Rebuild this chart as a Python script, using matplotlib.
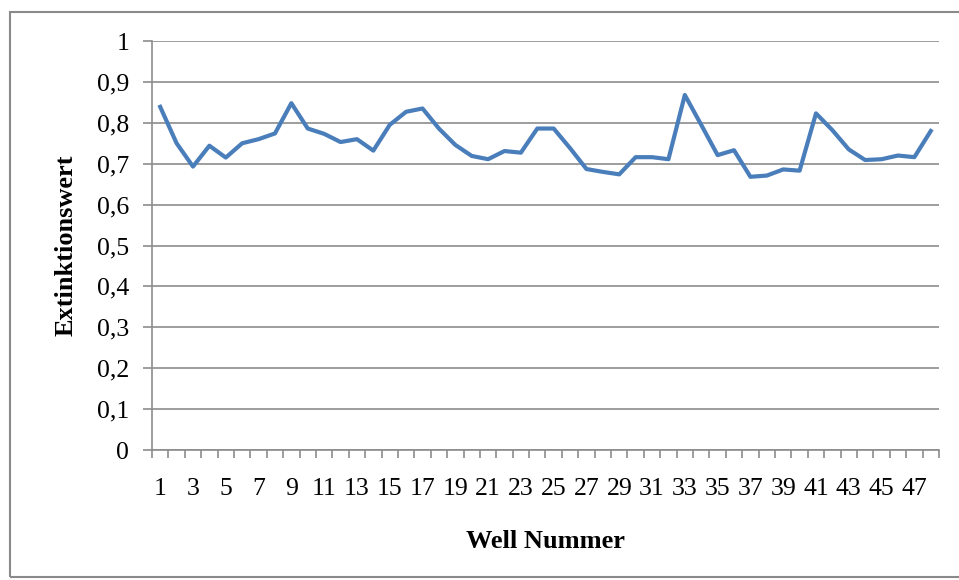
import matplotlib.pyplot as plt
from matplotlib.patches import Rectangle
from matplotlib.ticker import FuncFormatter
import numpy as np

# Extinktionswerte pro Well
wells = list(range(1, 49))
extinktion = [0.839, 0.750, 0.693, 0.744, 0.715, 0.750, 0.760, 0.774, 0.848, 0.786,
              0.773, 0.753, 0.760, 0.732, 0.795, 0.827, 0.835, 0.786, 0.746, 0.719,
              0.711, 0.731, 0.727, 0.786, 0.786, 0.738, 0.687, 0.680, 0.674, 0.716,
              0.716, 0.711, 0.868, 0.795, 0.721, 0.733, 0.668, 0.671, 0.686, 0.683,
              0.823, 0.782, 0.735, 0.709, 0.711, 0.720, 0.716, 0.780]
y_ticks = [0, 0.1, 0.2, 0.3, 0.4, 0.5, 0.6, 0.7, 0.8, 0.9, 1]

plt.rcParams['font.family'] = ['Liberation Serif', 'DejaVu Serif']

fig = plt.figure(figsize=(9.59, 5.8), dpi=100)
ax = fig.add_axes([0.1585, 0.2241, 0.8206, 0.7052])

# Rahmen um das ganze Diagramm
fig.patches.append(Rectangle((0.0105, 0.005), 1.2, 0.975, transform=fig.transFigure,
                             fill=False, edgecolor='#8a8a8a', linewidth=1.5))

pos = np.arange(len(wells))
ax.plot(pos, extinktion, color='#4a7ebb', linewidth=3.0, solid_joinstyle='round', zorder=3)

ax.set_xlim(-0.5, len(wells) - 0.5)
ax.set_ylim(0, 1)
ax.set_yticks(y_ticks)
ax.yaxis.set_major_formatter(FuncFormatter(lambda v, p: ('%g' % round(v, 1)).replace('.', ',')))
ax.grid(axis='y', color='#8c8c8c', linewidth=1.2)
ax.set_axisbelow(True)

# Kategorie-Achse: Ticks zwischen den Kategorien, jedes zweite Label
ax.set_xticks(np.arange(-0.5, len(wells), 1), minor=False)
ax.set_xticklabels([])
ax.set_xticks(pos[::2], minor=True)
ax.set_xticklabels([str(w) for w in wells[::2]], minor=True, fontsize=18.5)
ax.tick_params(axis='x', which='major', direction='out', length=6, color='#8c8c8c', width=1.2)
ax.tick_params(axis='x', which='minor', length=0, pad=20)
ax.tick_params(axis='y', direction='out', length=6.5, color='#8c8c8c', width=1.2, labelsize=18.5, pad=10)

for s in ['top', 'right']:
    ax.spines[s].set_visible(False)
for s in ['left', 'bottom']:
    ax.spines[s].set_color('#8c8c8c')
    ax.spines[s].set_linewidth(1.2)

ax.set_ylabel('Extinktionswert', fontsize=19, fontweight='bold', labelpad=14)
ax.set_xlabel('Well Nummer', fontsize=19, fontweight='bold', labelpad=22)

plt.savefig('out.png', dpi=100)
